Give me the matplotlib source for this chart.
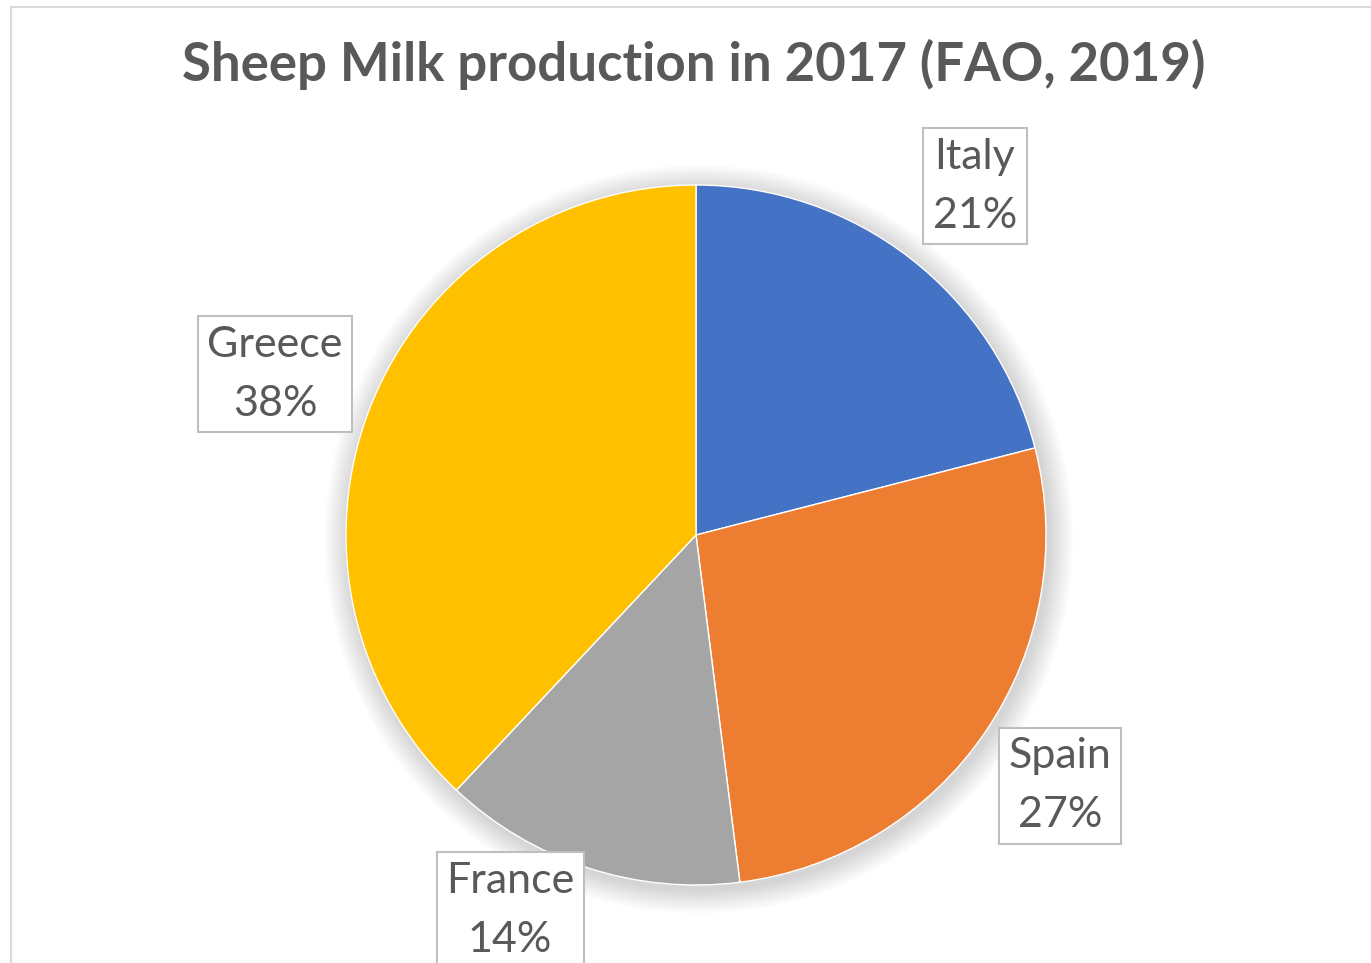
import matplotlib.pyplot as plt
from matplotlib.patches import Circle, Rectangle

countries = ["Italy", "Spain", "France", "Greece"]
shares = [21, 27, 14, 38]
colors = ["#4472C4", "#ED7D31", "#A5A5A5", "#FFC000"]

# label anchor points in pie data units (radius = 1)
label_pos = {
    "Italy": (0.797, 0.997),
    "Spain": (1.040, -0.717),
    "France": (-0.531, -1.072),
    "Greece": (-1.203, 0.459),
}

TEXT = "#595959"
W, H = 1371, 963

plt.rcParams["font.family"] = ["Lato", "DejaVu Sans"]
fig = plt.figure(figsize=(W / 100, H / 100), dpi=100)

# chart area frame
fig.patches.append(Rectangle((11 / W, -0.05), 1.1, 1.05 - 7 / H, transform=fig.transFigure,
                             fill=False, edgecolor="#d9d9d9", linewidth=1.5))

fig.text(694 / W, 1 - 64 / H, "Sheep Milk production in 2017 (FAO, 2019)",
         ha="center", va="center", fontsize=38, fontweight="bold", color=TEXT)

cx, cy, r = 696, 535, 350
ax = fig.add_axes([(cx - r) / W, (H - cy - r) / H, 2 * r / W, 2 * r / H])

# soft shadow behind the pie
for i in range(14):
    rad = 1.0 + 0.005 * (14 - i)
    ax.add_patch(Circle((0.008, -0.012), rad, color="#000000", alpha=0.011, lw=0,
                        zorder=0, clip_on=False))

wedges, _ = ax.pie(shares, colors=colors, startangle=90, counterclock=False,
                   radius=1, wedgeprops=dict(edgecolor="white", linewidth=1))
ax.set_xlim(-1, 1)
ax.set_ylim(-1, 1)
ax.set_aspect("auto")
ax.axis("off")

for name, val in zip(countries, shares):
    x, y = label_pos[name]
    ax.text(x, y, f"{name}\n{val}%", ha="center", va="center", fontsize=31,
            color=TEXT, linespacing=1.68, clip_on=False, zorder=5,
            bbox=dict(boxstyle="square,pad=0.22", facecolor="white",
                      edgecolor="#bfbfbf", linewidth=1.5))

fig.savefig("out.png", dpi=100)
